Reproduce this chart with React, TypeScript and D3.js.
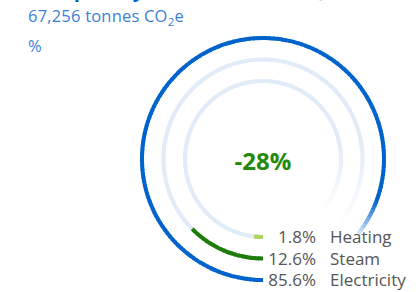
import React from "react";
import * as d3 from "d3";

// data
const categories = ["Heating", "Steam", "Electricity"];
const shares = [1.8, 12.6, 85.6];
const barColors = ["#a6d13c", "#1e7d08", "#0064cc"];
const titleText = "Scope 2 by Emission Source (Market-based)";
const totalValue = "67,256";
const changeLabel = "-28%";

const W = 416;
const H = 292;
const cx = 263;
const cy = 159;
const ringWidth = 4;
const trackColor = "#e2ebf8";

const angle = d3.scaleLinear().domain([0, 100]).range([Math.PI, 3 * Math.PI]);
const radius = d3.scalePoint<string>().domain(categories).range([78, 121]);

// split an arc into small pieces so the end can fade out
function pieces(r: number, from: number, to: number, fadeFrom: number, c0: string, c1: string, n = 90) {
  const arc = d3.arc();
  const out: { d: string; fill: string }[] = [];
  const step = (to - from) / n;
  const mix = d3.interpolateRgb(c0, c1);
  for (let i = 0; i < n; i++) {
    const a = from + i * step;
    const mid = a + step / 2;
    const t = mid <= fadeFrom ? 0 : (mid - fadeFrom) / (to - fadeFrom);
    out.push({
      d: arc({
        innerRadius: r - ringWidth / 2,
        outerRadius: r + ringWidth / 2,
        startAngle: angle(a),
        endAngle: angle(Math.min(to, a + step * 1.3)),
      }) as string,
      fill: mix(t),
    });
  }
  return out;
}

export default function App() {
  return (
    <svg
      width={W}
      height={H}
      style={{ position: "absolute", left: 0, top: 0, background: "#fff" }}
      fontFamily="'Open Sans', sans-serif"
    >
      <text x={40} y={-3} fontSize={20} fontWeight={700} fill="#0064cc">
        {titleText}
      </text>
      <text x={28} y={22} fontSize={16.5} letterSpacing={0.2} fill="#3b7fd6">
        {totalValue} tonnes CO<tspan fontSize={11.5} dy={4}>2</tspan>
        <tspan dy={-4}>e</tspan>
      </text>
      <text x={28} y={52} fontSize={16.5} fill="#3b7fd6">
        %
      </text>

      <g transform={`translate(${cx},${cy})`}>
        {categories.slice(0, 2).map((c) => (
          <g key={"track-" + c}>
            {pieces(radius(c)!, 0, 87, 72, trackColor, "#ffffff").map((p, i) => (
              <path key={i} d={p.d} fill={p.fill} />
            ))}
          </g>
        ))}
        {categories.map((c, i) => {
          const v = shares[i];
          const last = i === categories.length - 1;
          return (
            <g key={"bar-" + c}>
              {pieces(radius(c)!, 0, v, last ? v - 5 : v, barColors[i], last ? "#dfeaf8" : barColors[i], last ? 160 : 20).map(
                (p, j) => (
                  <path key={j} d={p.d} fill={p.fill} />
                )
              )}
            </g>
          );
        })}
        <text x={0} y={11} textAnchor="middle" fontSize={24} fontWeight={700} fill="#248a0c">
          {changeLabel}
        </text>
        {categories.map((c, i) => (
          <g key={"label-" + c} transform={`translate(0,${radius(c)! + 6})`} fontSize={17} fill="#555">
            <text x={53} textAnchor="end">
              {shares[i].toFixed(1)}%
            </text>
            <text x={67}>{c}</text>
          </g>
        ))}
      </g>
    </svg>
  );
}
